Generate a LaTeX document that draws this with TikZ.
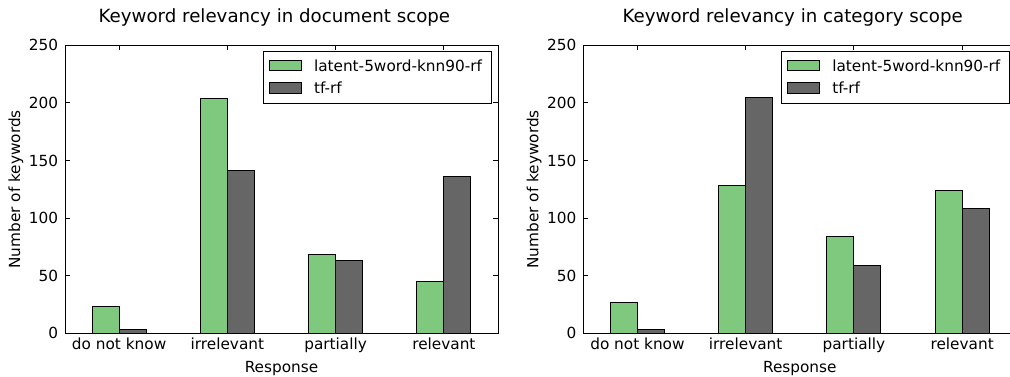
\documentclass[tikz,border=0pt]{standalone}
\usepackage{fontspec}
\setmainfont{DejaVu Sans}
\usepackage{tikz}
\usetikzlibrary{positioning}
\definecolor{latentgreen}{HTML}{7FC97F}
\definecolor{tfgray}{HTML}{666666}
\tikzset{
	bar/.style={draw=black, line width=1pt},
	latent bar/.style={bar, fill=latentgreen},
	tf bar/.style={bar, fill=tfgray},
	frame/.style={draw=black, line width=1pt},
	tickmark/.style={draw=black, line width=1pt},
	tick label/.style={
		font=\fontsize{15.3}{18}\selectfont,
		inner sep=0pt,
		outer sep=0pt
	},
	title label/.style={
		font=\fontsize{18.2}{22}\selectfont,
		inner sep=0pt,
		outer sep=0pt
	},
	legend box/.style={
		rectangle,
		draw=black,
		fill=white,
		line width=1pt,
		inner sep=0pt,
		outer sep=0pt,
		minimum width=227.7pt,
		minimum height=51.6pt
	},
	legend key/.style={
		rectangle,
		line width=1pt,
		inner sep=0pt,
		outer sep=0pt,
		minimum width=31.7pt,
		minimum height=10.7pt
	}
}
\newcommand{\relpanel}[4]{% panel name, left edge in pt, title, latent/tf counts
	\begin{scope}[shift={(#2pt,43.7pt)}, x=108.25pt, y=1.152pt]
		\foreach \lat/\tf [count=\i from 0] in {#4} {
			\draw[latent bar] (\i+0.25,0) rectangle (\i+0.5,\lat);
			\draw[tf bar] (\i+0.5,0) rectangle (\i+0.75,\tf);
		}
		\draw[frame] (0,0) rectangle (4,250);
		\foreach \v in {0,50,...,250} {
			\draw[tickmark] (0,\v) -- ++(5pt,0);
			\draw[tickmark] (4,\v) -- ++(-5pt,0);
			\node[tick label, anchor=east] (#1-y\v) at ([xshift=-7pt]0,\v) {\v};
		}
		\foreach \lbl [count=\i from 0] in {do not know, irrelevant, partially, relevant} {
			\draw[tickmark] (\i+0.5,0) -- ++(0,5pt);
			\draw[tickmark] (\i+0.5,250) -- ++(0,-5pt);
			\node[tick label, anchor=north] (#1-x\i) at ([yshift=-5pt]\i+0.5,0) {\lbl};
		}
		\node[tick label, anchor=base] (#1-xlabel) at ([yshift=-39pt]2,0) {Response};
		\node[tick label, rotate=90, anchor=base] (#1-ylabel) at ([xshift=-45pt]0,125) {Number of keywords};
		\node[title label, anchor=base] (#1-title) at ([xshift=209.4pt, yshift=22.3pt]0,250) {#3};
		
		\node[legend box, anchor=north west] (#1-legend) at ([xshift=198.3pt, yshift=-6.7pt]0,250) {};
		\node[legend key, draw=black, fill=latentgreen, anchor=north west] (#1-keylatent) at ([xshift=6pt, yshift=-8.3pt]#1-legend.north west) {};
		\node[legend key, draw=black, fill=tfgray, below=11.7pt of #1-keylatent] (#1-keytf) {};
		\node[tick label, right=13pt of #1-keylatent] (#1-textlatent) {latent-5word-knn90-rf};
		\node[tick label, right=13pt of #1-keytf] (#1-texttf) {tf-rf};
	\end{scope}
}

\begin{document}
\begin{tikzpicture}[x=1pt, y=1pt]
	\useasboundingbox (0,0) rectangle (1010,377);
	\fill[white] (0,0) rectangle (1010,377);
	
	\relpanel{doc}{65}{Keyword relevancy in document scope}{23/3, 204/141, 68/63, 45/136};
	\relpanel{cat}{583.3}{Keyword relevancy in category scope}{27/3, 128/205, 84/59, 124/108};
\end{tikzpicture}
\end{document}
